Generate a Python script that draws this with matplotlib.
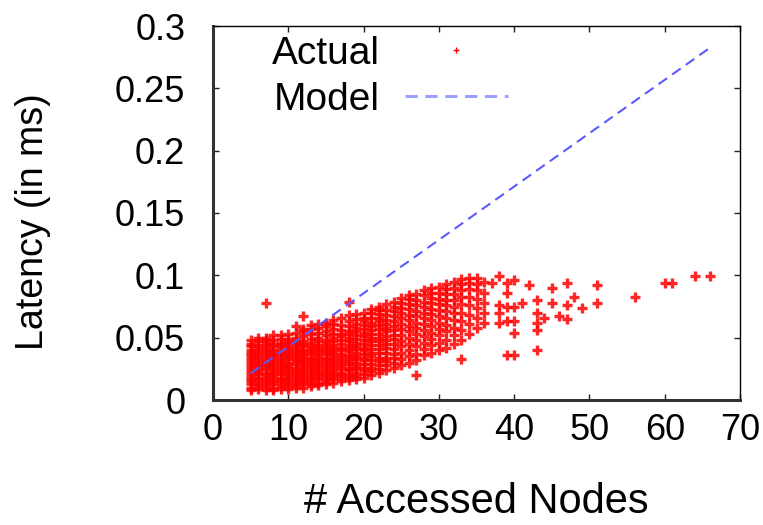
import matplotlib
matplotlib.use("Agg")
import matplotlib.pyplot as plt
from matplotlib.lines import Line2D

plt.rcParams['font.family'] = ['Liberation Sans', 'DejaVu Sans']

# Measured latency, grouped by number of accessed nodes
column_nodes = list(range(5, 37))
column_latency = [
    [0.008, 0.010, 0.0125, 0.015, 0.017, 0.0195, 0.022, 0.024, 0.0265, 0.029, 0.031, 0.0335, 0.036, 0.038, 0.0405, 0.043, 0.045, 0.048],
    [0.009, 0.011, 0.0135, 0.016, 0.018, 0.0205, 0.023, 0.025, 0.0275, 0.030, 0.032, 0.0345, 0.037, 0.039, 0.0415, 0.044, 0.047, 0.050],
    [0.008, 0.0105, 0.013, 0.015, 0.0175, 0.020, 0.022, 0.0245, 0.027, 0.029, 0.0315, 0.034, 0.036, 0.0385, 0.041, 0.043, 0.0455, 0.048, 0.050],
    [0.008, 0.010, 0.0125, 0.015, 0.017, 0.0195, 0.022, 0.024, 0.0265, 0.029, 0.031, 0.0335, 0.036, 0.038, 0.0405, 0.043, 0.045, 0.048, 0.052],
    [0.009, 0.011, 0.0135, 0.016, 0.018, 0.0205, 0.023, 0.025, 0.0275, 0.030, 0.032, 0.0345, 0.037, 0.039, 0.0415, 0.044, 0.046, 0.049, 0.052],
    [0.009, 0.0115, 0.014, 0.016, 0.0185, 0.021, 0.023, 0.0255, 0.028, 0.030, 0.0325, 0.035, 0.037, 0.0395, 0.042, 0.044, 0.0465, 0.049, 0.053],
    [0.010, 0.012, 0.0145, 0.017, 0.019, 0.0215, 0.024, 0.026, 0.0285, 0.031, 0.033, 0.0355, 0.038, 0.040, 0.0425, 0.045, 0.047, 0.050, 0.054, 0.059],
    [0.010, 0.0125, 0.015, 0.017, 0.0195, 0.022, 0.024, 0.0265, 0.029, 0.031, 0.0335, 0.036, 0.038, 0.0405, 0.043, 0.045, 0.0475, 0.051, 0.055, 0.057],
    [0.011, 0.013, 0.0155, 0.018, 0.020, 0.0225, 0.025, 0.027, 0.0295, 0.032, 0.034, 0.0365, 0.039, 0.041, 0.0435, 0.046, 0.049, 0.053, 0.057, 0.060],
    [0.012, 0.014, 0.0165, 0.019, 0.021, 0.0235, 0.026, 0.028, 0.0305, 0.033, 0.035, 0.0375, 0.040, 0.042, 0.0445, 0.047, 0.050, 0.054, 0.058, 0.061],
    [0.013, 0.0155, 0.018, 0.020, 0.0225, 0.025, 0.027, 0.0295, 0.032, 0.034, 0.0365, 0.039, 0.041, 0.0435, 0.046, 0.048, 0.052, 0.055, 0.059, 0.062],
    [0.014, 0.0165, 0.019, 0.021, 0.0235, 0.026, 0.028, 0.0305, 0.033, 0.035, 0.0375, 0.040, 0.042, 0.0445, 0.047, 0.050, 0.053, 0.057, 0.061, 0.064],
    [0.015, 0.0175, 0.020, 0.022, 0.0245, 0.027, 0.030, 0.032, 0.0345, 0.037, 0.040, 0.042, 0.045, 0.048, 0.051, 0.053, 0.056, 0.060, 0.066],
    [0.016, 0.0185, 0.021, 0.024, 0.026, 0.0285, 0.031, 0.034, 0.036, 0.039, 0.042, 0.044, 0.047, 0.050, 0.053, 0.055, 0.059, 0.063, 0.068],
    [0.017, 0.0195, 0.022, 0.025, 0.027, 0.030, 0.033, 0.035, 0.038, 0.041, 0.043, 0.046, 0.049, 0.052, 0.055, 0.058, 0.061, 0.065, 0.069],
    [0.018, 0.021, 0.024, 0.026, 0.029, 0.032, 0.034, 0.037, 0.040, 0.042, 0.045, 0.048, 0.051, 0.054, 0.057, 0.060, 0.063, 0.066, 0.070],
    [0.020, 0.023, 0.026, 0.029, 0.032, 0.035, 0.038, 0.041, 0.044, 0.047, 0.050, 0.053, 0.056, 0.059, 0.062, 0.066, 0.070, 0.073],
    [0.022, 0.025, 0.028, 0.031, 0.034, 0.038, 0.041, 0.044, 0.047, 0.050, 0.053, 0.057, 0.060, 0.063, 0.066, 0.069, 0.072, 0.075],
    [0.024, 0.028, 0.031, 0.034, 0.038, 0.042, 0.045, 0.048, 0.051, 0.055, 0.058, 0.061, 0.064, 0.068, 0.072, 0.077],
    [0.026, 0.030, 0.034, 0.037, 0.041, 0.045, 0.049, 0.052, 0.056, 0.059, 0.063, 0.067, 0.071, 0.075, 0.079],
    [0.028, 0.033, 0.038, 0.043, 0.047, 0.052, 0.057, 0.061, 0.066, 0.070, 0.074, 0.078, 0.082],
    [0.030, 0.035, 0.040, 0.045, 0.050, 0.055, 0.059, 0.064, 0.068, 0.073, 0.077, 0.081, 0.084],
    [0.032, 0.037, 0.043, 0.048, 0.053, 0.058, 0.062, 0.067, 0.071, 0.076, 0.080, 0.085],
    [0.036, 0.041, 0.046, 0.051, 0.056, 0.061, 0.066, 0.070, 0.075, 0.079, 0.084, 0.088],
    [0.038, 0.044, 0.049, 0.054, 0.059, 0.064, 0.069, 0.073, 0.078, 0.082, 0.086, 0.090],
    [0.040, 0.046, 0.052, 0.057, 0.062, 0.067, 0.072, 0.077, 0.081, 0.086, 0.091],
    [0.042, 0.048, 0.055, 0.060, 0.066, 0.071, 0.076, 0.080, 0.085, 0.089, 0.093],
    [0.045, 0.052, 0.058, 0.064, 0.070, 0.075, 0.080, 0.085, 0.090, 0.095],
    [0.048, 0.056, 0.063, 0.070, 0.077, 0.083, 0.088, 0.093, 0.097],
    [0.053, 0.061, 0.068, 0.076, 0.083, 0.089, 0.094, 0.098],
    [0.058, 0.066, 0.074, 0.081, 0.088, 0.093, 0.098],
    [0.062, 0.070, 0.078, 0.086, 0.095],
]

# Sparse measurements away from the main cluster
outlier_nodes = [7, 12, 18, 27, 33, 37, 38, 38, 38, 38, 39, 39, 39, 39, 39,
                 40, 40, 40, 40, 40, 41, 42, 43, 43, 43, 43, 43, 44, 45, 45,
                 46, 47, 47, 47, 48, 49, 51, 51, 56, 60, 61, 64, 66]
outlier_latency = [0.078, 0.067, 0.079, 0.020, 0.033, 0.094, 0.0995, 0.076, 0.070, 0.062,
                   0.094, 0.086, 0.075, 0.063, 0.036,
                   0.096, 0.075, 0.063, 0.054, 0.036, 0.078, 0.092,
                   0.080, 0.070, 0.062, 0.056, 0.040, 0.066, 0.090, 0.078,
                   0.067, 0.094, 0.076, 0.065, 0.083, 0.074, 0.092, 0.078,
                   0.083, 0.094, 0.094, 0.0995, 0.0995]

# Linear latency model
model_nodes = [5, 66]
model_latency = [0.0214, 0.2825]

x_ticks = [0, 10, 20, 30, 40, 50, 60, 70]
y_ticks = [0, 0.05, 0.1, 0.15, 0.2, 0.25, 0.3]
y_tick_labels = ['0', '0.05', '0.1', '0.15', '0.2', '0.25', '0.3']

fig = plt.figure(figsize=(7.63, 5.25), dpi=100)
ax = fig.add_axes([213 / 763, 1 - 400 / 525, (740 - 213) / 763, (400 - 26) / 525])

actual_x = []
actual_y = []
for n, ys in zip(column_nodes, column_latency):
    actual_x.extend([n] * len(ys))
    actual_y.extend(ys)
actual_x.extend(outlier_nodes)
actual_y.extend(outlier_latency)

ax.plot(actual_x, actual_y, linestyle='none', marker='+', color='#ff0000',
        markersize=7.5, markeredgewidth=2.4, alpha=0.85, zorder=2)

model_line, = ax.plot(model_nodes, model_latency, color='#5a5aff', linewidth=1.5, zorder=3)
model_line.set_dashes((5, 3))

ax.set_xlim(0, 70)
ax.set_ylim(0, 0.3)
ax.set_xticks(x_ticks)
ax.set_yticks(y_ticks)
ax.set_yticklabels(y_tick_labels)
ax.tick_params(axis='both', which='both', direction='in', top=True, right=True,
               length=4.5, width=1.0, labelsize=26, color='#222222')
ax.tick_params(axis='y', pad=20)
ax.tick_params(axis='x', pad=9)

for side in ('left', 'bottom'):
    ax.spines[side].set_linewidth(2.2)
    ax.spines[side].set_color('#333333')
for side in ('top', 'right'):
    ax.spines[side].set_linewidth(1.0)
    ax.spines[side].set_color('#000000')

fig.text(33 / 763, 1 - 222 / 525, 'Latency (in ms)', rotation=90,
         ha='center', va='center', fontsize=27)
fig.text(476 / 763, 1 - 502 / 525, '# Accessed Nodes', ha='center', va='center', fontsize=30)

legend_handles = [
    Line2D([], [], linestyle='none', marker='+', color='#ff0000', markersize=4, markeredgewidth=1.0),
    Line2D([], [], color='#9aa0ff', linewidth=2.2, dashes=(4, 2.5)),
]
ax.legend(legend_handles, ['Actual', 'Model'], loc='upper left',
          bbox_to_anchor=(272 / 763, 1 - 36 / 525), bbox_transform=fig.transFigure,
          frameon=False, markerfirst=False, fontsize=28, borderpad=0, borderaxespad=0,
          handlelength=2.64, handletextpad=0.64, labelspacing=0.26)

fig.savefig('out.png', dpi=100)
